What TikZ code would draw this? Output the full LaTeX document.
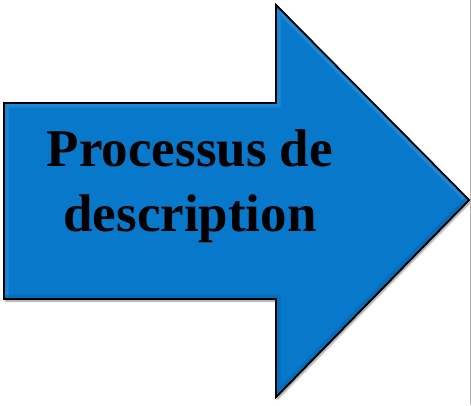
\documentclass[tikz,border=0pt]{standalone}
\usepackage{fontspec}
\setmainfont{Liberation Serif}
\usetikzlibrary{shadows.blur}
\definecolor{arrowblue}{HTML}{0878CB}
\definecolor{bevellight}{HTML}{2F93DE}
\definecolor{beveldark}{HTML}{0664AE}
\tikzset{
  arrowbody/.style={fill=arrowblue, draw=black, line width=1.6pt, line join=miter,
    blur shadow={shadow xshift=1.5pt, shadow yshift=-2pt, shadow blur steps=6, shadow opacity=45}},
  label/.style={font=\bfseries\fontsize{53}{65}\selectfont, align=center, text=black, inner sep=0pt}
}
\begin{document}
\begin{tikzpicture}[x=1pt, y=-1pt]
  \useasboundingbox (0,0) rectangle (471,405);
  % corner points of the arrow outline
  \coordinate (tl) at (4,103);
  \coordinate (st) at (276,103);
  \coordinate (ht) at (276,5);
  \coordinate (tip) at (469,200);
  \coordinate (hb) at (276,397);
  \coordinate (sb) at (276,299);
  \coordinate (bl) at (4,299);
  % arrow body
  \path[arrowbody] (tl) -- (st) -- (ht) -- (tip) -- (hb) -- (sb) -- (bl) -- cycle;
  % bevel: light on the upper edges, darker on the lower ones
  \begin{scope}
    \clip (tl) -- (st) -- (ht) -- (tip) -- (hb) -- (sb) -- (bl) -- cycle;
    \draw[bevellight, line width=9pt, opacity=0.55] (bl) -- (tl) -- (st) -- (ht) -- (tip);
    \draw[beveldark, line width=9pt, opacity=0.55] (tip) -- (hb) -- (sb) -- (bl);
  \end{scope}
  \draw[black, line width=1.6pt, line join=miter] (tl) -- (st) -- (ht) -- (tip) -- (hb) -- (sb) -- (bl) -- cycle;
  % right image border
  \draw[gray!60, line width=0.8pt] (470.5,0) -- (470.5,405);
  % caption
  \node[label] (caption) at (190,186) {Processus de\\description};
\end{tikzpicture}
\end{document}
